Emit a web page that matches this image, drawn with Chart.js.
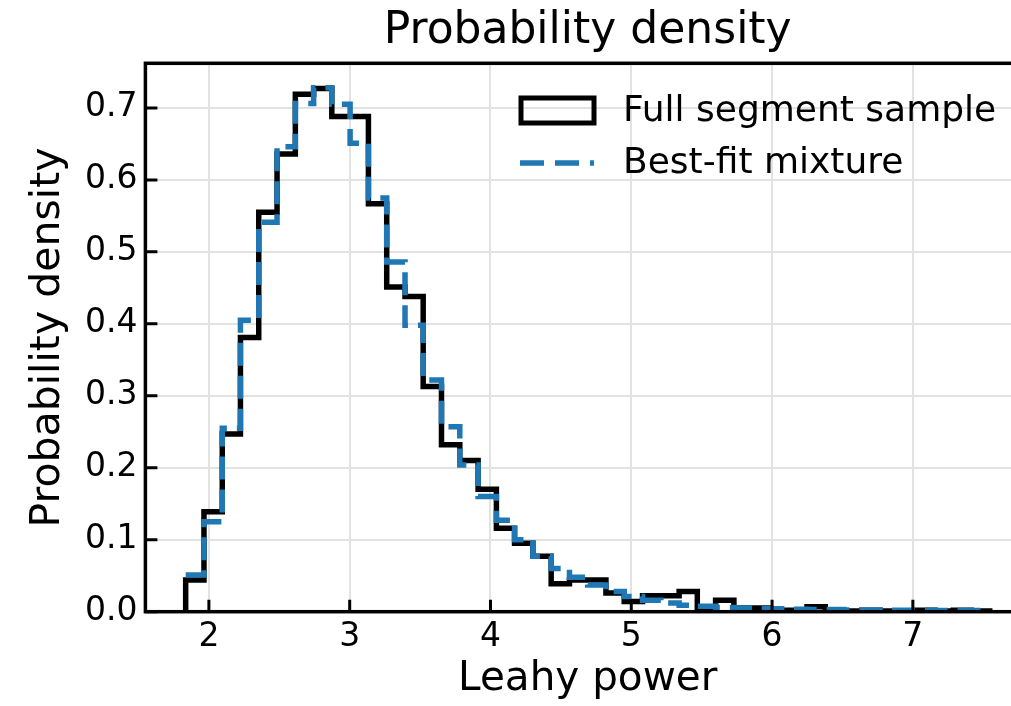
<!DOCTYPE html>
<html><head><meta charset="utf-8">
<script src="https://cdn.jsdelivr.net/npm/chart.js@4/dist/chart.umd.min.js"></script>
<style>
html,body{margin:0;padding:0;background:#fff;overflow:hidden;width:1011px;height:706px}
#wrap{position:absolute;left:0;top:0;width:1044px;height:706px}
</style>
</head><body>
<div id="wrap"><canvas id="c" width="1044" height="706"></canvas></div>
<script>
// ---- data ----
const binEdges = [1.835, 1.965, 2.095, 2.224, 2.354, 2.484, 2.614, 2.744, 2.873, 3.003,
  3.133, 3.263, 3.393, 3.522, 3.652, 3.782, 3.912, 4.042, 4.171, 4.301,
  4.431, 4.561, 4.691, 4.820, 4.950, 5.080, 5.210, 5.340, 5.469, 5.599,
  5.729, 5.859, 5.989, 6.118, 6.248, 6.378, 6.508, 6.638, 6.767, 6.897,
  7.027, 7.157, 7.287, 7.416, 7.546];
const fullSegmentSample = [0.044, 0.139, 0.247, 0.381, 0.555, 0.636, 0.719, 0.727, 0.688, 0.688,
  0.567, 0.451, 0.438, 0.313, 0.232, 0.210, 0.170, 0.116, 0.095, 0.077,
  0.039, 0.044, 0.044, 0.026, 0.014, 0.022, 0.022, 0.028, 0.005, 0.016,
  0.005, 0.005, 0.002, 0.002, 0.007, 0.002, 0.001, 0.002, 0.001, 0.001,
  0.002, 0.001, 0.002, 0.001];
const bestFitMixture = [0.051, 0.125, 0.255, 0.405, 0.541, 0.646, 0.706, 0.728, 0.705, 0.651,
  0.575, 0.486, 0.398, 0.322, 0.257, 0.204, 0.160, 0.127, 0.100, 0.077,
  0.060, 0.048, 0.037, 0.028, 0.021, 0.016, 0.012, 0.009, 0.0075, 0.006,
  0.005, 0.0045, 0.004, 0.0035, 0.003, 0.003, 0.0025, 0.0025, 0.002, 0.002,
  0.002, 0.0015, 0.0015, 0.0015];
const xTickValues = [2, 3, 4, 5, 6, 7];
const yTickValues = [0.0, 0.1, 0.2, 0.3, 0.4, 0.5, 0.6, 0.7];
const seriesLabels = ['Full segment sample', 'Best-fit mixture'];
const chartTitle = 'Probability density';
const xTitle = 'Leahy power';
const yTitle = 'Probability density';

// ---- build step tables ----
const blackPts = [{x: binEdges[0], y: 0}];
fullSegmentSample.forEach((v, i) => blackPts.push({x: binEdges[i + 1], y: v}));
blackPts.push({x: binEdges[binEdges.length - 1], y: 0});
const bluePts = [{x: binEdges[0], y: bestFitMixture[0]}];
bestFitMixture.forEach((v, i) => bluePts.push({x: binEdges[i + 1], y: v}));

const FONT = '"DejaVu Sans", sans-serif';
const BLUE = '#1f77b4';

const framePlugin = {
  id: 'frame',
  afterDatasetsDraw(chart) {
    const {ctx, chartArea: a, scales: {x, y}} = chart;
    ctx.save();
    ctx.strokeStyle = '#000';
    ctx.lineWidth = 3;
    ctx.beginPath();
    x.ticks.forEach(t => { const p = x.getPixelForValue(t.value); ctx.moveTo(p, a.bottom); ctx.lineTo(p, a.bottom - 12); });
    y.ticks.forEach(t => { const p = y.getPixelForValue(t.value); ctx.moveTo(a.left, p); ctx.lineTo(a.left + 12, p); });
    ctx.stroke();
    ctx.lineWidth = 3.5;
    ctx.strokeRect(a.left, a.top, a.right - a.left, a.bottom - a.top);
    ctx.restore();
  }
};

const legendPlugin = {
  id: 'innerLegend',
  afterDraw(chart) {
    const {ctx} = chart;
    ctx.save();
    ctx.strokeStyle = '#000';
    ctx.lineWidth = 5;
    ctx.lineJoin = 'miter';
    ctx.strokeRect(521, 98, 73, 25);
    ctx.strokeStyle = BLUE;
    ctx.lineWidth = 5.5;
    ctx.setLineDash([24, 11]);
    ctx.lineCap = 'butt';
    ctx.beginPath();
    ctx.moveTo(520, 163);
    ctx.lineTo(594, 163);
    ctx.stroke();
    ctx.setLineDash([]);
    ctx.fillStyle = '#000';
    ctx.font = '36px ' + FONT;
    ctx.textBaseline = 'middle';
    ctx.textAlign = 'left';
    ctx.fillText(seriesLabels[0], 623, 112);
    ctx.fillText(seriesLabels[1], 623, 164);
    ctx.restore();
  }
};

new Chart(document.getElementById('c'), {
  type: 'line',
  data: {
    datasets: [
      {label: seriesLabels[1], data: bluePts, borderColor: BLUE, borderWidth: 5.5, borderDash: [23, 10],
       borderCapStyle: 'butt', borderJoinStyle: 'miter', stepped: 'after', pointRadius: 0, fill: false, order: 1},
      {label: seriesLabels[0], data: blackPts, borderColor: '#000', borderWidth: 5.5,
       borderJoinStyle: 'miter', stepped: 'after', pointRadius: 0, fill: false, order: 2}
    ]
  },
  options: {
    responsive: false,
    animation: false,
    devicePixelRatio: 1,
    layout: {padding: {left: 0, right: 14, top: 0, bottom: 0}},
    plugins: {
      legend: {display: false},
      tooltip: {enabled: false},
      title: {display: true, text: chartTitle, color: '#000', fullSize: false,
        font: {family: FONT, size: 44, weight: 'normal'}, padding: {top: 5, bottom: 5.5}}
    },
    scales: {
      x: {
        type: 'linear', min: 1.549, max: 7.832,
        afterFit: s => { s.height = 94.3; },
        afterBuildTicks: s => { s.ticks = xTickValues.map(v => ({value: v})); },
        ticks: {color: '#000', font: {family: FONT, size: 33}, padding: 6, includeBounds: false,
          autoSkip: false, maxRotation: 0, callback: v => String(v)},
        grid: {color: '#e2e2e2', lineWidth: 2, drawTicks: false},
        border: {display: false},
        title: {display: true, text: xTitle, color: '#000', font: {family: FONT, size: 40.5}, padding: {top: 0, bottom: 2}}
      },
      y: {
        type: 'linear', min: 0, max: 0.762,
        afterFit: s => { s.width = 145.4; },
        afterBuildTicks: s => { s.ticks = yTickValues.map(v => ({value: v})); },
        ticks: {color: '#000', font: {family: FONT, size: 33}, padding: 8, includeBounds: false,
          autoSkip: false, callback: v => Number(v).toFixed(1)},
        grid: {color: '#e2e2e2', lineWidth: 2, drawTicks: false},
        border: {display: false},
        title: {display: true, text: yTitle, color: '#000', font: {family: FONT, size: 41}, padding: {top: 24, bottom: 0}}
      }
    }
  },
  plugins: [framePlugin, legendPlugin]
});
</script>
</body></html>
